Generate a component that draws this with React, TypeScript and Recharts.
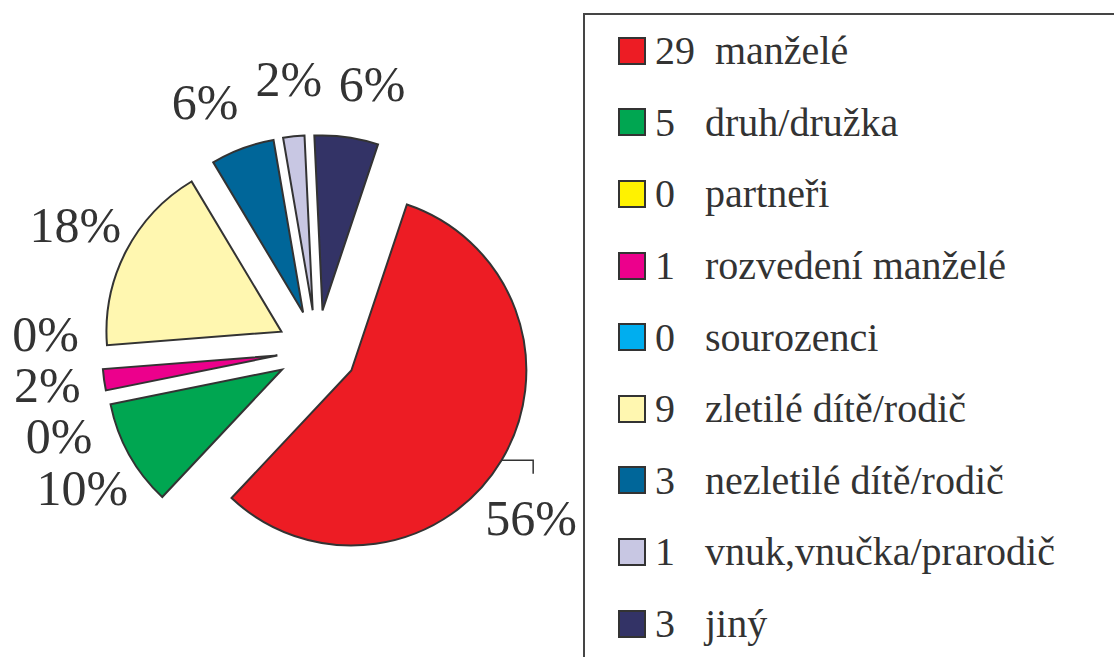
import React from 'react';
import { PieChart, Pie, Cell, Legend } from 'recharts';

const categories = [
  'manželé',
  'druh/družka',
  'partneři',
  'rozvedení manželé',
  'sourozenci',
  'zletilé dítě/rodič',
  'nezletilé dítě/rodič',
  'vnuk,vnučka/prarodič',
  'jiný',
];
const counts = [29, 5, 0, 1, 0, 9, 3, 1, 3];
const percentLabels = ['56%', '10%', '0%', '2%', '0%', '18%', '6%', '2%', '6%'];
const colors = [
  '#ED1C24',
  '#00A651',
  '#FFF200',
  '#EC008C',
  '#00AEEF',
  '#FFF7B0',
  '#006699',
  '#C8C7E3',
  '#333366',
];

const W = 1114;
const H = 657;
const FONT = "'Liberation Serif', 'Times New Roman', Times, 'DejaVu Serif', 'Noto Serif', serif";
const INK = '#333333';
const CX = 317;
const CY = 350;
const R = 175;
const EXPLODE = 40;
const LABEL_R = 272;
const LABEL_SIZE = 50;
const FIRST = 18.5; // first slice starts here, degrees clockwise from 12 o'clock
const LEGEND_LEFT = 583;
const LEGEND_TOP = 13;

const data = categories.map((name, i) => ({ name, value: counts[i] }));
const total = counts.reduce((a, b) => a + b, 0);

const rad = (deg: number) => (deg * Math.PI) / 180;
// clockwise-from-top polar helper
const polar = (x: number, y: number, r: number, deg: number) => ({
  x: x + r * Math.sin(rad(deg)),
  y: y - r * Math.cos(rad(deg)),
});

// slice middles, clockwise from 12 o'clock
const mids = counts.map((v, i) => {
  const before = counts.slice(0, i).reduce((a, b) => a + b, 0);
  return FIRST + ((before + v / 2) / total) * 360;
});
const offsets = mids.map((m) => polar(0, 0, EXPLODE, m));

const textWidth = (s: string) =>
  s.split('').reduce((w, c) => w + (c === '%' ? 0.833 : 0.5), 0) * LABEL_SIZE;

// push labels apart along the circle until their boxes stop overlapping,
// then keep them clear of the legend box
const placeLabels = () => {
  const ang = [...mids];
  const n = ang.length;
  const w = percentLabels.map(textWidth);
  const h = LABEL_SIZE * 0.68;
  const pad = 16;
  for (let it = 0; it < 500; it++) {
    let moved = false;
    for (let i = 0; i < n; i++) {
      const j = (i + 1) % n;
      const a = polar(CX, CY, LABEL_R, ang[i]);
      const b = polar(CX, CY, LABEL_R, ang[j]);
      if (Math.abs(a.x - b.x) < (w[i] + w[j]) / 2 + pad && Math.abs(a.y - b.y) < h + pad) {
        ang[i] -= 0.25;
        ang[j] += 0.25;
        moved = true;
      }
    }
    if (!moved) break;
  }
  return ang.map((deg, i) => {
    let p = polar(CX, CY, LABEL_R, deg);
    const maxX = LEGEND_LEFT - 6 - w[i] / 2;
    let leader = false;
    if (p.x > maxX) {
      const dy = Math.sqrt(LABEL_R * LABEL_R - (maxX - CX) * (maxX - CX));
      p = { x: maxX, y: CY + (p.y >= CY ? dy : -dy) };
      leader = true;
    }
    return { ...p, leader };
  });
};
const labelPos = placeLabels();

const renderLabel = (k: number) => (props: any) => {
  if (props.index !== k) return null;
  const p = labelPos[k];
  const a = (-props.midAngle * Math.PI) / 180;
  const sx = props.cx + props.outerRadius * Math.cos(a);
  const sy = props.cy + props.outerRadius * Math.sin(a);
  return (
    <g>
      {p.leader && (
        <polyline
          points={`${sx},${sy} ${p.x + 2},${sy} ${p.x + 2},${p.y - 44}`}
          fill="none"
          stroke={INK}
          strokeWidth={1.5}
        />
      )}
      <text
        x={p.x}
        y={p.y + LABEL_SIZE * 0.34}
        textAnchor="middle"
        style={{ fontFamily: FONT }}
        fontSize={LABEL_SIZE}
        fill={INK}
      >
        {percentLabels[k]}
      </text>
    </g>
  );
};

const LegendBox = () => (
  <div
    style={{
      position: 'absolute',
      left: 0,
      top: 0,
      width: 620,
      height: 720,
      boxSizing: 'border-box',
      border: '2px solid #454545',
      background: '#fff',
      fontFamily: FONT,
      fontSize: 40,
      color: INK,
    }}
  >
    {categories.map((name, i) => (
      <div key={name} style={{ display: 'flex', alignItems: 'center', height: 71.6, paddingLeft: 33 }}>
        <div
          style={{
            width: 28,
            height: 28,
            boxSizing: 'border-box',
            border: `2px solid ${INK}`,
            background: colors[i],
            flex: 'none',
          }}
        />
        <span style={{ marginLeft: 9, whiteSpace: 'pre', fontFamily: FONT }}>
          {String(counts[i]).padEnd(4) + name}
        </span>
      </div>
    ))}
  </div>
);

export default function App() {
  return (
    <div
      style={{
        position: 'absolute',
        left: 0,
        top: 0,
        width: W,
        height: H,
        overflow: 'hidden',
        background: '#fff',
        fontFamily: FONT,
      }}
    >
      <PieChart width={W} height={H} margin={{ top: 0, right: 0, bottom: 0, left: 0 }}>
        {counts.map((_, k) => (
          <Pie
            key={k}
            data={data}
            dataKey="value"
            nameKey="name"
            cx={CX + offsets[k].x}
            cy={CY + offsets[k].y}
            outerRadius={R}
            startAngle={90 - FIRST}
            endAngle={90 - FIRST - 360}
            isAnimationActive={false}
            labelLine={false}
            label={renderLabel(k)}
          >
            {data.map((d, i) => (
              <Cell
                key={d.name}
                fill={i === k ? colors[i] : 'none'}
                stroke={i === k ? INK : 'none'}
                strokeWidth={2}
              />
            ))}
          </Pie>
        ))}
        <Legend
          content={<LegendBox />}
          wrapperStyle={{ left: LEGEND_LEFT, top: LEGEND_TOP, width: 0, height: 0, overflow: 'visible' }}
        />
      </PieChart>
    </div>
  );
}
